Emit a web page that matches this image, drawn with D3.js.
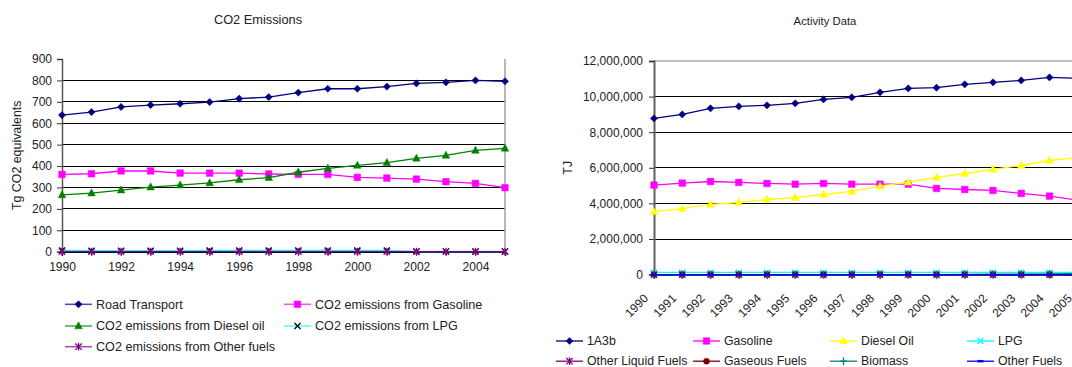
<!DOCTYPE html>
<html><head><meta charset="utf-8">
<script src="https://cdn.jsdelivr.net/npm/d3@7"></script>
<style>
html,body{margin:0;padding:0;background:#fff;}
svg{display:block;font-family:"Liberation Sans",Arial,sans-serif;}
</style></head>
<body>
<svg id="c" width="1072" height="367"></svg>
<script>
// ---------- DATA ----------
const years = [1990,1991,1992,1993,1994,1995,1996,1997,1998,1999,2000,2001,2002,2003,2004,2005];

// Left chart: CO2 Emissions (Tg CO2 equivalents)
const roadTransport = [638,652,676,685,691,699,715,722,743,761,761,771,786,791,800,796];
const co2Gasoline   = [361,364,377,377,367,367,367,363,361,361,347,344,339,327,319,299];
const co2Diesel     = [265,274,288,302,311,321,336,346,371,389,403,416,436,450,473,483];
const co2LPG        = [6,5,5,5,5,6,6,6,6,6,6,6,1,1,1,1];
const co2Other      = [0.5,0.5,0.5,0.5,0.5,0.5,0.5,0.5,0.5,0.5,0.5,0.5,0.5,0.5,0.5,0.5];
const leftTicks = [0,100,200,300,400,500,600,700,800,900];
const leftYearLabels = [1990,1992,1994,1996,1998,2000,2002,2004];

// Right chart: Activity Data (TJ)
const ad1A3b        = [8775000,9000000,9340000,9450000,9510000,9620000,9840000,9960000,10240000,10460000,10500000,10690000,10800000,10910000,11080000,11030000];
const adGasoline    = [5030000,5140000,5230000,5180000,5120000,5080000,5120000,5080000,5080000,5080000,4840000,4780000,4730000,4560000,4410000,4180000];
const adDiesel      = [3540000,3710000,3940000,4050000,4220000,4330000,4500000,4670000,4970000,5190000,5460000,5680000,5910000,6130000,6410000,6580000];
const adLPG         = [120000,120000,120000,120000,120000,120000,120000,120000,120000,120000,120000,120000,120000,120000,120000,120000];
const adOtherLiquid = [0,0,0,0,0,0,0,0,0,0,0,0,0,0,0,0];
const adGaseous     = [0,0,0,0,0,0,0,0,0,0,0,0,0,0,0,0];
const adBiomass     = [0,0,0,0,0,0,0,0,0,0,0,10000,20000,30000,40000,60000];
const adOtherFuels  = [0,0,0,0,0,0,0,0,0,0,0,0,0,0,0,0];
const rightTicks = [0,2000000,4000000,6000000,8000000,10000000,12000000];

// ---------- MARKERS ----------
function markerPath(type, s){
  switch(type){
    case "diamond": return `M0,${-s}L${s},0L0,${s}L${-s},0Z`;
    case "square": return `M${-s},${-s}H${s}V${s}H${-s}Z`;
    case "triangle": return `M0,${-s*1.1}L${s},${s*0.75}L${-s},${s*0.75}Z`;
    case "circle": return d3.symbol(d3.symbolCircle, Math.PI*s*s)();
    default: return null;
  }
}
function drawMarker(g, type, x, y, color, s){
  const filled = ["diamond","square","triangle","circle"];
  if(filled.includes(type)){
    g.append("path").attr("transform",`translate(${x},${y})`).attr("d",markerPath(type,s)).attr("fill",color).attr("stroke",color).attr("stroke-width",0.5);
  } else {
    let d="";
    if(type==="x"||type==="asterisk") d+=`M${-s},${-s}L${s},${s}M${-s},${s}L${s},${-s}`;
    if(type==="asterisk"||type==="plus") d+=`M0,${-s*1.2}L0,${s*1.2}`;
    if(type==="plus") d+=`M${-s},0L${s},0`;
    if(type==="dash") d+=`M${-s},0L${s},0`;
    g.append("path").attr("transform",`translate(${x},${y})`).attr("d",d).attr("fill","none").attr("stroke",color).attr("stroke-width",type==="dash"?2.5:1.3);
  }
}

const svg = d3.select("#c");

// ---------- LEFT CHART ----------
(function(){
  const x = d3.scaleLinear().domain([1990,2005]).range([62,505]);
  const y = d3.scaleLinear().domain([0,900]).range([251.7,59]);
  const g = svg.append("g");

  g.selectAll("line.grid").data(leftTicks.filter(t=>t>0&&t<900)).enter().append("line")
    .attr("x1",x(1990)).attr("x2",x(2005)).attr("y1",d=>y(d)).attr("y2",d=>y(d))
    .attr("stroke","#000").attr("stroke-width",1).attr("shape-rendering","crispEdges");
  g.append("line").attr("x1",x(2005)).attr("x2",x(2005)).attr("y1",y(900)).attr("y2",y(0))
    .attr("stroke","#a0a0a0").attr("stroke-width",1.5);

  const ya = d3.axisLeft(y).tickValues(leftTicks).tickSize(5).tickPadding(5).tickFormat(d3.format("d"));
  const yg = g.append("g").attr("transform",`translate(${x(1990)},0)`).call(ya);
  yg.select(".domain").attr("stroke","#555").attr("stroke-width",1.5);
  yg.selectAll(".tick line").attr("stroke","#333");
  yg.selectAll("text").attr("font-size",12).attr("fill","#222").attr("font-family","Liberation Sans, Arial, sans-serif");

  const xa = d3.axisBottom(x).tickValues(years).tickSize(4).tickFormat(d=>leftYearLabels.includes(d)?String(d):"");
  const xg = g.append("g").attr("transform",`translate(0,${y(0)})`).call(xa);
  xg.select(".domain").attr("stroke","#000").attr("stroke-width",1.5);
  xg.selectAll(".tick line").attr("stroke","#333");
  xg.selectAll("text").attr("font-size",12).attr("fill","#222").attr("dy","1.05em").attr("font-family","Liberation Sans, Arial, sans-serif");

  g.append("text").attr("transform",`translate(20.5,${(y(0)+y(900))/2}) rotate(-90)`).attr("text-anchor","middle")
    .attr("font-size",12.4).attr("fill","#222").text("Tg CO2 equivalents");
  g.append("text").attr("x",258).attr("y",23.5).attr("text-anchor","middle").attr("font-size",12.8).attr("fill","#222").text("CO2 Emissions");

  const series = [
    {name:"Road Transport", vals:roadTransport, color:"#000080", marker:"diamond", mcolor:"#000080", ms:3.6},
    {name:"CO2 emissions from Gasoline", vals:co2Gasoline, color:"#ff00ff", marker:"square", mcolor:"#ff00ff", ms:3.3},
    {name:"CO2 emissions from Diesel oil", vals:co2Diesel, color:"#008000", marker:"triangle", mcolor:"#008000", ms:3.8},
    {name:"CO2 emissions from LPG", vals:co2LPG, color:"#00ffff", marker:"x", mcolor:"#000", ms:3},
    {name:"CO2 emissions from Other fuels", vals:co2Other, color:"#800080", marker:"asterisk", mcolor:"#800080", ms:3.2}
  ];
  const line = d3.line().x((d,i)=>x(years[i])).y(d=>y(d));
  series.forEach(s=>{
    g.append("path").attr("d",line(s.vals)).attr("fill","none").attr("stroke",s.color).attr("stroke-width",1.3);
    s.vals.forEach((v,i)=>drawMarker(g,s.marker,x(years[i]),y(v),s.mcolor,s.ms));
  });

  const legPos = [[65,304.3],[284,304.3],[65,326],[284,326],[65,346.7]];
  series.forEach((s,i)=>{
    const [lx,ly]=legPos[i];
    g.append("line").attr("x1",lx).attr("x2",lx+27).attr("y1",ly).attr("y2",ly).attr("stroke",s.color).attr("stroke-width",1.5).attr("opacity",0.7);
    drawMarker(g,s.marker,lx+13.5,ly,s.mcolor,s.ms);
    g.append("text").attr("x",lx+31).attr("y",ly+4.4).attr("font-size",12.6).attr("fill","#222").text(s.name);
  });
})();

// ---------- RIGHT CHART ----------
(function(){
  const x = d3.scaleLinear().domain([1990,2005]).range([654,654+15*28.25]);
  const y = d3.scaleLinear().domain([0,12000000]).range([274.6,61]);
  const g = svg.append("g");

  g.selectAll("line.grid").data(rightTicks.filter(t=>t>0&&t<12000000)).enter().append("line")
    .attr("x1",x(1990)).attr("x2",x(2005)).attr("y1",d=>y(d)).attr("y2",d=>y(d))
    .attr("stroke","#000").attr("stroke-width",1).attr("shape-rendering","crispEdges");
  g.append("line").attr("x1",x(1990)).attr("x2",x(2005)).attr("y1",y(12000000)).attr("y2",y(12000000))
    .attr("stroke","#808080").attr("stroke-width",1.2);

  const ya = d3.axisLeft(y).tickValues(rightTicks).tickSize(5).tickPadding(6).tickFormat(d3.format(","));
  const yg = g.append("g").attr("transform",`translate(${x(1990)},0)`).call(ya);
  yg.select(".domain").attr("stroke","#606060").attr("stroke-width",2);
  yg.selectAll(".tick line").attr("stroke","#333");
  yg.selectAll("text").attr("font-size",12).attr("fill","#222").attr("font-family","Liberation Sans, Arial, sans-serif");

  const xa = d3.axisBottom(x).tickValues(years).tickSize(4).tickFormat("");
  const xg = g.append("g").attr("transform",`translate(0,${y(0)})`).call(xa);
  xg.select(".domain").attr("stroke","#000").attr("stroke-width",1.5);
  xg.selectAll(".tick line").attr("stroke","#333");
  g.selectAll("text.xl").data(years).enter().append("text")
    .attr("transform",d=>`translate(${x(d)-5},299) rotate(-45)`).attr("text-anchor","end")
    .attr("font-size",12).attr("fill","#222").text(d=>String(d));

  g.append("text").attr("transform",`translate(572,${(y(0)+y(12000000))/2}) rotate(-90)`).attr("text-anchor","middle")
    .attr("font-size",12.4).attr("fill","#222").text("TJ");
  g.append("text").attr("x",825).attr("y",25).attr("text-anchor","middle").attr("font-size",11.3).attr("fill","#222").text("Activity Data");

  const series = [
    {name:"1A3b", vals:ad1A3b, color:"#000080", marker:"diamond", ms:3.6},
    {name:"Gasoline", vals:adGasoline, color:"#ff00ff", marker:"square", ms:3.3},
    {name:"Diesel Oil", vals:adDiesel, color:"#ffff00", marker:"triangle", ms:3.8},
    {name:"LPG", vals:adLPG, color:"#00ffff", marker:"x", ms:3},
    {name:"Other Liquid Fuels", vals:adOtherLiquid, color:"#800080", marker:"asterisk", ms:3.2},
    {name:"Gaseous Fuels", vals:adGaseous, color:"#800000", marker:"circle", ms:3},
    {name:"Biomass", vals:adBiomass, color:"#008080", marker:"plus", ms:3.2},
    {name:"Other Fuels", vals:adOtherFuels, color:"#0000ff", marker:"dash", ms:3}
  ];
  const line = d3.line().x((d,i)=>x(years[i])).y(d=>y(d));
  series.forEach(s=>{
    g.append("path").attr("d",line(s.vals)).attr("fill","none").attr("stroke",s.color).attr("stroke-width",1.3);
    s.vals.forEach((v,i)=>drawMarker(g,s.marker,x(years[i]),y(v),s.color,s.ms));
  });

  const cols=[556,693,830,967], rows=[341,361.2];
  series.forEach((s,i)=>{
    const lx=cols[i%4], ly=rows[Math.floor(i/4)];
    g.append("line").attr("x1",lx).attr("x2",lx+27).attr("y1",ly).attr("y2",ly).attr("stroke",s.color).attr("stroke-width",1.3);
    drawMarker(g,s.marker,lx+13.5,ly,s.color,s.ms);
    g.append("text").attr("x",lx+31).attr("y",ly+4.2).attr("font-size",12.3).attr("fill","#222").text(s.name);
  });
})();
</script>
</body></html>
